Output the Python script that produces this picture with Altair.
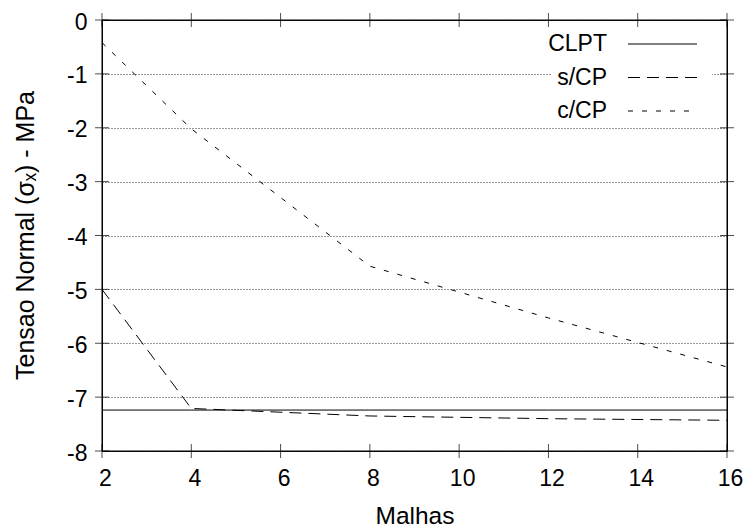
import altair as alt
import pandas as pd

# Data
malhas = [2, 4, 8, 12, 16]
clpt = [-7.24, -7.24, -7.24, -7.24, -7.24]
s_cp = [-5.0, -7.21, -7.35, -7.40, -7.43]
c_cp = [-0.42, -2.02, -4.57, -5.53, -6.44]
series_names = ["CLPT", "s/CP", "c/CP"]
x_ticks = [2, 4, 6, 8, 10, 12, 14, 16]
y_ticks = [0, -1, -2, -3, -4, -5, -6, -7, -8]
x_range = [2, 16]
y_range = [-8, 0]

rows = []
for name, vals in zip(series_names, [clpt, s_cp, c_cp]):
    for m, v in zip(malhas, vals):
        rows.append({"malhas": m, "tensao": v, "serie": name})
df = pd.DataFrame(rows)
leg_df = pd.DataFrame({"serie": series_names, "rank": list(range(len(series_names)))})
xt_df = pd.DataFrame({"xtick": x_ticks})
yt_df = pd.DataFrame({"ytick": y_ticks})
xb_df = pd.DataFrame({"xb": x_range})
yb_df = pd.DataFrame({"yb": y_range})

W, H = 625, 431
TL = 7
FONT = "Liberation Sans"
FS = 23
xs = alt.Scale(domain=x_range, nice=False, zero=False)
ys = alt.Scale(domain=y_range, nice=False, zero=False)
dash_scale = alt.Scale(domain=series_names, range=[[1, 0], [12, 7], [5, 9]])

lines = alt.Chart(df).mark_line(color="black", strokeWidth=1).encode(
    x=alt.X("malhas:Q", scale=xs, axis=alt.Axis(
        orient="bottom", values=x_ticks, tickSize=0, domain=False, grid=False,
        labelFlush=False, labelPadding=34, labelBaseline="alphabetic", labelOffset=3,
        labelFont=FONT, labelFontSize=FS, labelColor="black",
        title="Malhas", titleFont=FONT, titleFontSize=24.5, titleFontWeight="normal",
        titleColor="black", titleY=72, titleBaseline="alphabetic")),
    y=alt.Y("tensao:Q", scale=ys, axis=alt.Axis(
        orient="left", values=y_ticks, tickSize=0, domain=False, grid=True,
        gridDash=[1, 2], gridColor="#333", gridWidth=1,
        labelFlush=False, labelPadding=15, labelBaseline="alphabetic", labelOffset=9,
        labelExpr="datum.value + ''",
        labelFont=FONT, labelFontSize=FS, labelColor="black",
        title="Tensao Normal (σₓ) - MPa", titleFont=FONT, titleFontSize=25,
        titleFontWeight="normal", titleColor="black",
        titleX=-77, titleY=215, titleAngle=270, titleAlign="center",
        titleBaseline="middle")),
    strokeDash=alt.StrokeDash("serie:N", scale=dash_scale, legend=None),
)

# legend (gnuplot style: label left of sample line, white box)
leg_y = alt.Y("rank:Q", scale=alt.Scale(domain=[0, 2], range=[24, 91]), axis=None)
leg_bg = alt.Chart(leg_df).mark_rect(color="white").encode(
    x=alt.value(450), x2=alt.value(610), y=alt.value(6), y2=alt.value(100))
leg_text = alt.Chart(leg_df).mark_text(
    align="right", baseline="middle", font=FONT, fontSize=FS, color="black"
).encode(x=alt.value(505), y=leg_y, text="serie:N")
leg_line = alt.Chart(leg_df).mark_rule(color="black", strokeWidth=1).encode(
    x=alt.value(526), x2=alt.value(595), y=leg_y,
    strokeDash=alt.StrokeDash("serie:N", scale=dash_scale, legend=None))

# ticks on all four sides
tick_b = alt.Chart(xt_df).mark_tick(color="black", thickness=1, size=2 * TL, orient="vertical").encode(
    x=alt.X("xtick:Q", scale=xs, axis=None), y=alt.value(H))
tick_t = alt.Chart(xt_df).mark_tick(color="black", thickness=1, size=2 * TL, orient="vertical").encode(
    x=alt.X("xtick:Q", scale=xs, axis=None), y=alt.value(0))
tick_l = alt.Chart(yt_df).mark_tick(color="black", thickness=1, size=2 * TL, orient="horizontal").encode(
    y=alt.Y("ytick:Q", scale=ys, axis=None), x=alt.value(0))
tick_r = alt.Chart(yt_df).mark_tick(color="black", thickness=1, size=2 * TL, orient="horizontal").encode(
    y=alt.Y("ytick:Q", scale=ys, axis=None), x=alt.value(W))

# frame drawn through the scales at the domain limits
frame_h = alt.Chart(yb_df).mark_rule(color="black", strokeWidth=1).encode(
    y=alt.Y("yb:Q", scale=ys, axis=None))
frame_v = alt.Chart(xb_df).mark_rule(color="black", strokeWidth=1).encode(
    x=alt.X("xb:Q", scale=xs, axis=None))

chart = alt.layer(
    lines, leg_bg, leg_text, leg_line, tick_b, tick_t, tick_l, tick_r, frame_h, frame_v
).resolve_scale(
    x="independent", y="independent"
).properties(
    width=W, height=H,
    autosize=alt.AutoSizeParams(type="none"),
    padding={"left": 102, "top": 20, "right": 19, "bottom": 78},
    background="white",
).configure_view(stroke="black", strokeWidth=1)

chart.save("out.html", embed_options={"renderer": "svg", "actions": False})
